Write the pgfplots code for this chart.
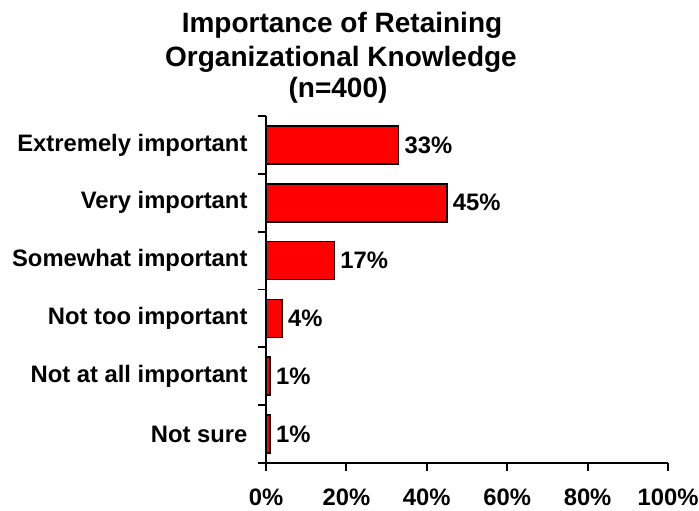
\documentclass[border=0pt]{standalone}
\usepackage{fontspec}
\setmainfont{Liberation Sans}
\usepackage{pgfplots}
\pgfplotsset{compat=1.18}
\begin{document}
\begin{tikzpicture}[x=1pt,y=1pt]
\path[use as bounding box] (0,0) rectangle (699,511);
\tikzset{ttl/.style={anchor=base, font=\fontsize{28}{33}\selectfont\bfseries, inner sep=0pt}}
\node[ttl] at (342,478) {Importance of Retaining};
\node[ttl] at (341,444) {Organizational Knowledge};
\node[ttl] at (338,413) {(n=400)};
\begin{axis}[at={(266pt,48pt)}, anchor=south west, scale only axis,
  width=402pt, height=347pt,
  xbar, bar width=38pt,
  xmin=0, xmax=100, ymin=0.5, ymax=6.5,
  axis lines*=left,
  axis line style={line width=1.6pt, black},
  ytick={1,...,6},
  yticklabels={Not sure, Not at all important, Not too important, Somewhat important, Very important, Extremely important},
  minor ytick={0.5,1.5,...,6.5},
  tick align=outside, major tick length=8pt, minor tick length=8pt,
  every tick/.style={black, line width=1.8pt},
  every minor tick/.style={black, line width=1.8pt},
  major y tick style={draw=none},
  xtick={0,20,...,100},
  xticklabels={0\%,20\%,40\%,60\%,80\%,100\%},
  ticklabel style={font=\fontsize{23.8}{28}\selectfont\bfseries},
  yticklabel style={xshift=-7pt},
  xticklabel style={yshift=-14pt},
  nodes near coords={\pgfmathprintnumber[assume math mode=true]{\pgfplotspointmeta}\%},
  point meta=x,
  every node near coord/.append style={font=\fontsize{23.8}{28}\selectfont\bfseries, anchor=west, xshift=2pt, black},
]
\addplot[fill=red, draw=black, line width=1.5pt] coordinates {(1,1) (1,2) (4,3) (17,4) (45,5) (33,6)};
\end{axis}
\end{tikzpicture}
\end{document}
